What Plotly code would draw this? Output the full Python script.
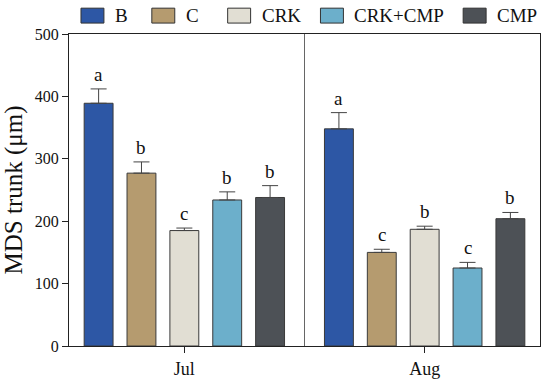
import plotly.graph_objects as go

months = ["Jul", "Aug"]
series = ["B", "C", "CRK", "CRK+CMP", "CMP"]
colors = ["#2D57A5", "#B59B6F", "#E1DED3", "#6CAFCB", "#4D5156"]

means_B = [389, 348]
means_C = [277, 150]
means_CRK = [185, 187]
means_CRKCMP = [234, 125]
means_CMP = [238, 204]

err_B = [23, 26]
err_C = [18, 5]
err_CRK = [4, 5]
err_CRKCMP = [13, 9]
err_CMP = [19, 10]

letters_B = ["a", "a"]
letters_C = ["b", "c"]
letters_CRK = ["c", "b"]
letters_CRKCMP = ["b", "c"]
letters_CMP = ["b", "b"]

means = [means_B, means_C, means_CRK, means_CRKCMP, means_CMP]
errs = [err_B, err_C, err_CRK, err_CRKCMP, err_CMP]
letters = [letters_B, letters_C, letters_CRK, letters_CRKCMP, letters_CMP]

FONT = "Liberation Serif"
bargap = 0.108
n = len(series)
slot = (1 - bargap) / n

fig = go.Figure()
for i, s in enumerate(series):
    fig.add_trace(go.Bar(
        x=months, y=means[i], name=s,
        marker=dict(color=colors[i], line=dict(color="#3a3a3a", width=1)),
        error_y=dict(type="data", array=errs[i], arrayminus=[0] * len(months),
                     symmetric=False, color="#444", thickness=1, width=8),
        showlegend=False,
    ))

annotations = []
for i in range(n):
    off = (i - (n - 1) / 2) * slot
    for j, m in enumerate(months):
        annotations.append(dict(
            x=j + off, y=means[i][j] + errs[i][j], xref="x", yref="y",
            text=letters[i][j], showarrow=False, yanchor="bottom", yshift=2,
            font=dict(family=FONT, size=19, color="#111")))

# custom legend (swatch + label) across the top
L, R = 69, 541
W = R - L
def px(v):
    return (v - L) / W

swatch_left = [81, 152, 228, 321, 464]
shapes = []
for i, s in enumerate(series):
    x0 = swatch_left[i]
    shapes.append(dict(type="rect", xref="paper", yref="paper",
                       x0=px(x0), x1=px(x0 + 23), y0=1 + 11 / 314, y1=1 + 26 / 314,
                       fillcolor=colors[i], line=dict(color="#333", width=1)))
    annotations.append(dict(x=px(x0 + 32), y=1 + 18.5 / 314, xref="paper", yref="paper",
                            text=s, showarrow=False, xanchor="left", yanchor="middle",
                            font=dict(family=FONT, size=19, color="#111")))

# divider between months
shapes.append(dict(type="line", xref="x", yref="y", x0=0.5, x1=0.5, y0=0, y1=500,
                   line=dict(color="#666", width=1)))

fig.update_layout(
    width=550, height=388,
    margin=dict(l=69, r=9, t=34, b=40),
    paper_bgcolor="white", plot_bgcolor="white",
    barmode="group", bargap=bargap, bargroupgap=0.326,
    font=dict(family=FONT, size=16, color="#111"),
    annotations=annotations, shapes=shapes,
    xaxis=dict(range=[-0.48, 1.48], showline=True, linecolor="#222", linewidth=1.2,
               mirror=True, ticks="outside", ticklen=6, tickcolor="#222",
               tickfont=dict(family=FONT, size=18), showgrid=False),
    yaxis=dict(range=[0, 500], tickvals=[0, 100, 200, 300, 400, 500],
               showline=True, linecolor="#222", linewidth=1.2, mirror=True,
               ticks="outside", ticklen=6, tickcolor="#222", showgrid=False,
               zeroline=False, tickfont=dict(family=FONT, size=16),
               title=dict(text="MDS trunk (μm)", font=dict(family=FONT, size=25), standoff=4)),
)

fig.write_html("out.html", config={"displayModeBar": False},
               post_script="document.body.style.margin='0';document.body.style.padding='0';")
